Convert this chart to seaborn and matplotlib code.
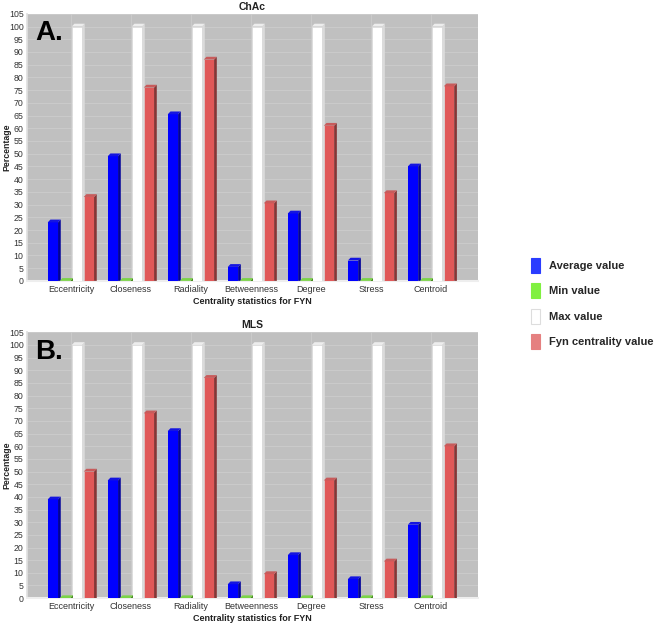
import numpy as np
import pandas as pd
import matplotlib
matplotlib.use("Agg")
import matplotlib.pyplot as plt
import seaborn as sns
from matplotlib.patches import Polygon, Patch

categories = ["Eccentricity", "Closeness", "Radiality", "Betweenness", "Degree", "Stress", "Centroid"]
series = ["Average value", "Min value", "Max value", "Fyn centrality value"]

chac_avg = [23, 49, 65.5, 5.5, 26.5, 8, 45]
chac_min = [0, 0, 0, 0, 0, 0, 0]
chac_max = [100, 100, 100, 100, 100, 100, 100]
chac_fyn = [33, 76, 87, 30.5, 61, 34.5, 76.5]

mls_avg = [39, 46.5, 66, 5.5, 17, 7.5, 29]
mls_min = [0, 0, 0, 0, 0, 0, 0]
mls_max = [100, 100, 100, 100, 100, 100, 100]
mls_fyn = [50, 73, 87, 9.5, 46.5, 14.5, 60]

yticks = list(range(0, 106, 5))
colors = ["#0000ff", "#80f040", "#ffffff", "#e05858"]
legend_colors = ["#2a3cff", "#80f040", "#ffffff", "#e58080"]

sns.set_theme(style="white")
plt.rcParams["font.family"] = ["Liberation Sans", "DejaVu Sans"]

fig = plt.figure(figsize=(6.6, 6.27), dpi=100)


def make_df(vals):
    rows = []
    for s, v in zip(series, vals):
        for c, x in zip(categories, v):
            rows.append({"cat": c, "series": s, "value": x})
    return pd.DataFrame(rows)


def draw(ax, vals, title, letter):
    df = make_df(vals)
    sns.barplot(data=df, x="cat", y="value", hue="series", order=categories,
                hue_order=series, palette=colors, saturation=1, width=0.8, gap=0.14,
                edgecolor="none", linewidth=0, ax=ax, legend=False, zorder=3)
    ax.set_facecolor("#c0c0c0")
    ax.set_ylim(0, 105)
    ax.set_xlim(-0.73, 6.78)
    ax.set_yticks(yticks)
    ax.set_yticklabels([str(t) for t in yticks], fontsize=6.3, color="#333333")
    ax.tick_params(axis="x", labelsize=6.5, colors="#333333", length=0, pad=3)
    ax.tick_params(axis="y", length=1.5, pad=1, width=0.5, color="#888888")
    ax.grid(True, color="#cdcdcd", linewidth=0.6, zorder=0)
    ax.set_axisbelow(True)
    for sp in ax.spines.values():
        sp.set_visible(False)
    ax.spines["bottom"].set_visible(True)
    ax.spines["bottom"].set_color("#eeeeee")
    ax.spines["bottom"].set_linewidth(1.5)
    ax.spines["left"].set_visible(True)
    ax.spines["left"].set_color("#e0e0e0")
    ax.set_xlabel("Centrality statistics for FYN", fontsize=6.5, fontweight="bold", labelpad=2, color="#222222")
    ax.set_ylabel("Percentage", fontsize=6.3, fontweight="bold", color="#222222")
    ax.yaxis.set_label_coords(-0.034, 0.5)
    ax.set_title(title, fontsize=7.5, fontweight="bold", pad=3, color="#222222")
    ax.text(0.018, 0.975, letter, transform=ax.transAxes, fontsize=20, fontweight="bold",
            va="top", ha="left", color="black", zorder=6)
    # 3D-like side and top faces derived from the drawn bars
    dx = 0.045
    dy = 1.1
    for p in list(ax.patches):
        x0 = p.get_x()
        w = p.get_width()
        h = p.get_height()
        fc = np.array(p.get_facecolor()[:3])
        is_white = fc.mean() >= 0.99
        side = np.array([0.86, 0.86, 0.86]) if is_white else fc * 0.6
        top = np.array([0.93, 0.93, 0.93]) if is_white else np.clip(fc * 0.8 + 0.08, 0, 1)
        ax.add_patch(Polygon([[x0 + w, 0], [x0 + w + dx, 0], [x0 + w + dx, h + dy], [x0 + w, h]],
                             closed=True, facecolor=side, edgecolor="none", zorder=3))
        ax.add_patch(Polygon([[x0, h], [x0 + w, h], [x0 + w + dx, h + dy], [x0 + dx, h + dy]],
                             closed=True, facecolor=top, edgecolor="none", zorder=3))
        if is_white:
            p.set_edgecolor("#dddddd")
            p.set_linewidth(0.4)


ax1 = fig.add_axes([0.041, 0.552, 0.683, 0.426])
draw(ax1, [chac_avg, chac_min, chac_max, chac_fyn], "ChAc", "A.")
ax2 = fig.add_axes([0.041, 0.046, 0.683, 0.424])
draw(ax2, [mls_avg, mls_min, mls_max, mls_fyn], "MLS", "B.")

handles = [Patch(facecolor=c, edgecolor=("#dddddd" if c == "#ffffff" else c), linewidth=0.8)
           for c in legend_colors]
leg = fig.legend(handles, series, loc="upper left", bbox_to_anchor=(0.79, 0.605),
                 frameon=False, handlelength=0.75, handleheight=1.7, handletextpad=0.8,
                 labelspacing=0.95, prop={"size": 8, "weight": "bold"})

fig.savefig("out.png", dpi=100, facecolor="white")
